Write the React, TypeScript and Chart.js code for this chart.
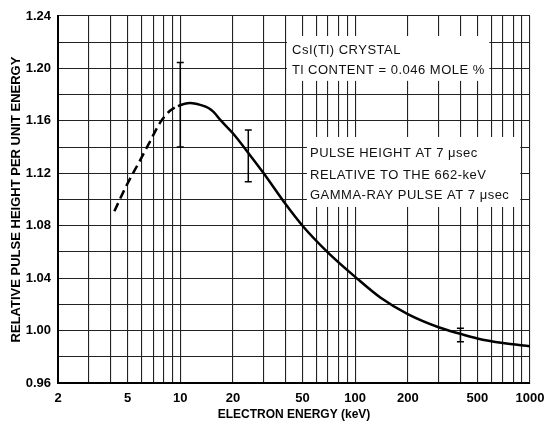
import React, { useEffect, useRef } from 'react';
import { Chart, registerables } from 'chart.js';

Chart.register(...registerables);

// ---- data ----
const energyKeV = [4.2, 4.9, 5.9, 6.7, 7.7, 8.7, 9.7, 11.4, 13, 14.5, 15.5, 17, 20, 25, 30, 40, 50, 70, 100, 140, 200, 300, 400, 500, 700, 1000];
const relativePulse = [1.091, 1.110, 1.130, 1.144, 1.159, 1.1675, 1.1712, 1.1736, 1.1722, 1.1698, 1.1668, 1.1605, 1.1505, 1.134, 1.120, 1.0965, 1.080, 1.0595, 1.041, 1.025, 1.0125, 1.0025, 0.9975, 0.994, 0.9905, 0.988];
const dashEndEnergy = 9.7;

const errorEnergy = [10, 24.5, 400];
const errorLow = [1.140, 1.1136, 0.9915];
const errorHigh = [1.2045, 1.153, 1.0017];

const xGridValues = [2, 3, 4, 5, 6, 7, 8, 9, 10, 20, 30, 40, 50, 60, 70, 80, 90, 100, 200, 300, 400, 500, 600, 700, 800, 900, 1000];
const xLabelValues = [2, 5, 10, 20, 50, 100, 200, 500, 1000];
const yMin = 0.96;
const yMax = 1.24;
const yStep = 0.02;

const xTitle = 'ELECTRON ENERGY (keV)';
const yTitle = 'RELATIVE PULSE HEIGHT PER UNIT ENERGY';

const note1Lines = ['CsI(Tl) CRYSTAL', 'Tl CONTENT = 0.046 MOLE %'];
const note1Box = { x0: 40.8, x1: 585, y0: 1.2247, y1: 1.1905 };
const note1Text = { x: 43.6, y: [1.214, 1.1988] };

const note2Lines = ['PULSE HEIGHT AT 7 μsec', 'RELATIVE TO THE 662-keV', 'GAMMA-RAY PULSE AT 7 μsec'];
const note2Box = { x0: 53, x1: 880, y0: 1.1477, y1: 1.0943 };
const note2Text = { x: 55.2, y: [1.1355, 1.1187, 1.1034] };

const FONT = "'Liberation Sans', Arial, sans-serif";

const notesPlugin = {
  id: 'notes',
  beforeDatasetsDraw(chart: any) {
    const { ctx, scales } = chart;
    const xs = scales.x;
    const ys = scales.y;
    const drawNote = (box: any, text: any, lines: string[]) => {
      const l = xs.getPixelForValue(box.x0);
      const r = xs.getPixelForValue(box.x1);
      const t = ys.getPixelForValue(box.y0);
      const b = ys.getPixelForValue(box.y1);
      ctx.save();
      ctx.fillStyle = '#fff';
      ctx.fillRect(l, t, r - l, b - t);
      ctx.fillStyle = '#111';
      ctx.font = `13px ${FONT}`;
      try { (ctx as any).letterSpacing = '0.5px'; } catch (e) { /* ignore */ }
      ctx.textAlign = 'left';
      ctx.textBaseline = 'middle';
      const tx = xs.getPixelForValue(text.x);
      lines.forEach((line, i) => {
        ctx.fillText(line, tx, ys.getPixelForValue(text.y[i]));
      });
      ctx.restore();
    };
    drawNote(note1Box, note1Text, note1Lines);
    drawNote(note2Box, note2Text, note2Lines);
  },
  afterDatasetsDraw(chart: any) {
    const { ctx, scales } = chart;
    const xs = scales.x;
    const ys = scales.y;
    ctx.save();
    ctx.strokeStyle = '#000';
    ctx.lineWidth = 1.5;
    for (let i = 0; i < errorEnergy.length; i++) {
      const x = xs.getPixelForValue(errorEnergy[i]);
      const yt = ys.getPixelForValue(errorHigh[i]);
      const yb = ys.getPixelForValue(errorLow[i]);
      ctx.beginPath();
      ctx.moveTo(x, yt);
      ctx.lineTo(x, yb);
      ctx.moveTo(x - 3.5, yt);
      ctx.lineTo(x + 3.5, yt);
      ctx.moveTo(x - 3.5, yb);
      ctx.lineTo(x + 3.5, yb);
      ctx.stroke();
    }
    ctx.restore();
  },
};

export default function App() {
  const canvasRef = useRef<HTMLCanvasElement | null>(null);

  useEffect(() => {
    const canvas = canvasRef.current;
    if (!canvas) return;
    const chart = new Chart(canvas, {
      type: 'line',
      data: {
        datasets: [
          {
            data: energyKeV.map((x, i) => ({ x, y: relativePulse[i] })),
            borderColor: '#000',
            borderWidth: 2.5,
            pointRadius: 0,
            fill: false,
            cubicInterpolationMode: 'monotone',
            segment: {
              borderDash: (ctx: any) => (ctx.p1.parsed.x <= dashEndEnergy ? [9, 5] : undefined),
            },
          } as any,
        ],
      },
      options: {
        animation: false,
        responsive: false,
        devicePixelRatio: 1,
        layout: { padding: { top: 16, right: 15, left: 0, bottom: 0 } },
        plugins: { legend: { display: false }, tooltip: { enabled: false } },
        scales: {
          x: {
            type: 'logarithmic',
            min: 2,
            max: 1000,
            afterBuildTicks: (scale: any) => {
              scale.ticks = xGridValues.map((v) => ({ value: v }));
            },
            afterFit: (scale: any) => {
              scale.height = 41;
              scale.paddingLeft = 0;
              scale.paddingRight = 0;
            },
            ticks: {
              autoSkip: false,
              maxRotation: 0,
              minRotation: 0,
              padding: 8,
              color: '#000',
              font: { family: FONT, size: 13, weight: 'bold' },
              callback: (v: any) => (xLabelValues.includes(Number(v)) ? String(v) : ''),
            },
            grid: { color: '#222', lineWidth: 1.1, drawTicks: false },
            border: { display: true, color: '#000', width: 2 },
            title: {
              display: true,
              text: xTitle,
              color: '#000',
              font: { family: FONT, size: 12, weight: 'bold' },
              padding: { top: 0, bottom: 2 },
            },
          },
          y: {
            type: 'linear',
            min: yMin,
            max: yMax,
            afterFit: (scale: any) => {
              scale.width = 58;
              scale.paddingTop = 0;
              scale.paddingBottom = 0;
            },
            ticks: {
              stepSize: yStep,
              autoSkip: false,
              padding: 7,
              color: '#000',
              font: { family: FONT, size: 13, weight: 'bold' },
              callback: (v: any) => (Math.round(Number(v) * 100) % 4 === 0 ? Number(v).toFixed(2) : ''),
            },
            grid: { color: '#222', lineWidth: 1.1, drawTicks: false },
            border: { display: true, color: '#000', width: 2 },
            title: {
              display: true,
              text: yTitle,
              color: '#000',
              font: { family: FONT, size: 13, weight: 'bold' },
              padding: { top: 9, bottom: 0 },
            },
          },
        },
      } as any,
      plugins: [notesPlugin],
    });
    return () => chart.destroy();
  }, []);

  return (
    <div style={{ position: 'absolute', left: 0, top: 0, width: 545, height: 424, background: '#fff' }}>
      <canvas ref={canvasRef} width={545} height={424} />
    </div>
  );
}
